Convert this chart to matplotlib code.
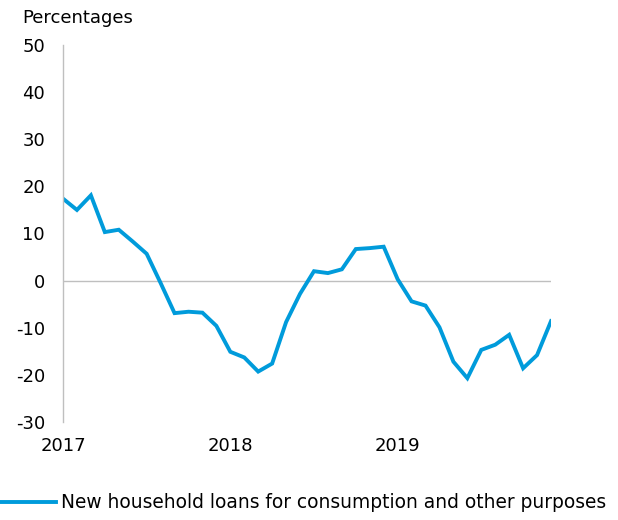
import matplotlib

matplotlib.use("Agg")
import matplotlib.pyplot as plt
import numpy as np

# Monthly growth, Jan 2017 - Dec 2019 (percentages)
months = np.arange(36)
values = [17.4, 15.0, 18.1, 10.3, 10.8, 8.3, 5.7, -0.5, -6.9, -6.6, -6.8, -9.6,
          -15.1, -16.3, -19.3, -17.6, -8.8, -2.8, 2.0, 1.6, 2.4, 6.7, 6.9, 7.2,
          0.3, -4.4, -5.3, -9.9, -17.2, -20.7, -14.7, -13.6, -11.5, -18.6, -15.8, -8.6]
year_ticks = [0, 12, 24]
year_labels = ["2017", "2018", "2019"]
y_ticks = [50, 40, 30, 20, 10, 0, -10, -20, -30]
series_label = "New household loans for consumption and other purposes"

BLUE = "#009BDB"
plt.rcParams["font.family"] = "DejaVu Sans"
plt.rcParams["font.size"] = 13
plt.rcParams["axes.unicode_minus"] = False

fig = plt.figure(figsize=(6.18, 5.2), dpi=100)
ax = fig.add_axes([63 / 618, 1 - 422 / 520, 488 / 618, 377 / 520])

ax.plot(months, values, color=BLUE, linewidth=2.8, label=series_label,
        solid_joinstyle="miter")
ax.axhline(0, color="#bfbfbf", linewidth=1, zorder=0)

ax.set_xlim(0, 35)
ax.set_ylim(-30, 50)
ax.set_yticks(y_ticks)
ax.set_xticks(year_ticks, year_labels)
ax.tick_params(axis="y", length=0, pad=13)
ax.tick_params(axis="x", length=0, pad=11)
for side in ["top", "right", "bottom"]:
    ax.spines[side].set_visible(False)
ax.spines["left"].set_color("#bfbfbf")
ax.spines["left"].set_linewidth(1)

fig.text(22 / 618, 1 - 18 / 520, "Percentages", ha="left", va="center")

fig.legend(loc="center left", bbox_to_anchor=(0, 1 - 503 / 520), frameon=False,
           fontsize=13.4, handlelength=3.0, handletextpad=0.3, borderpad=0,
           borderaxespad=0)

fig.savefig("out.png", dpi=100)
